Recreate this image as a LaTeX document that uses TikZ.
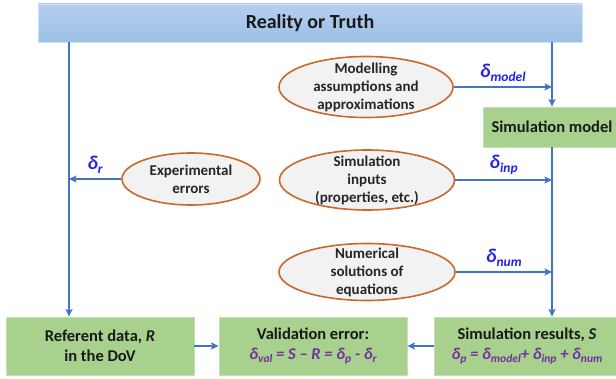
\documentclass[tikz,border=0pt]{standalone}
\usepackage{fontspec}
\setmainfont{Carlito}
\usepackage{tikz}
\usetikzlibrary{arrows.meta,shapes.geometric}

\definecolor{lineblue}{HTML}{4472C4}
\definecolor{deltablue}{HTML}{2323E6}
\definecolor{formpurple}{HTML}{7030A0}
\definecolor{boxgreen}{HTML}{A9D18E}
\definecolor{boxedge}{HTML}{C5E0B4}
\definecolor{bartop}{HTML}{B4CFEE}
\definecolor{barbottom}{HTML}{9CBFE6}
\definecolor{ellorange}{HTML}{C9692C}
\definecolor{ellfill}{HTML}{F2F2F2}

\newcommand{\dlabel}[1]{{\fontsize{19.5}{19}\selectfont\itshape δ}\raisebox{-4.5pt}{\fontsize{13.5}{13}\selectfont\itshape #1}}
\newcommand{\dterm}[1]{δ\raisebox{-3.5pt}{\fontsize{11.5}{11}\selectfont #1}}

\begin{document}
\begin{tikzpicture}[x=1pt,y=-1pt,line width=1.7pt,
  greenbox/.style={rectangle,fill=boxgreen,draw=boxedge,line width=0.8pt,align=center,inner sep=0pt,
    text=black!90,font=\bfseries\fontsize{16.5}{20}\selectfont},
  errell/.style={ellipse,fill=ellfill,draw=ellorange,line width=1.6pt,inner sep=0pt},
  elltext/.style={align=center,text=black!85,font=\bfseries\fontsize{15}{18}\selectfont},
  flow/.style={draw=lineblue,line width=1.7pt,-{Stealth[length=7.5pt,width=7pt,inset=1.5pt]}},
  dlab/.style={midway,above=1pt,text=deltablue,font=\bfseries}]
\useasboundingbox (0,0) rectangle (616,379);

\node[rectangle,top color=bartop,bottom color=barbottom,draw=bartop!60!white,line width=0.8pt,
  minimum width=544,minimum height=38,font=\bfseries\fontsize{20}{20}\selectfont,text=black!90] (truth) at (310,23) {Reality or Truth};

\node[greenbox,minimum width=138,minimum height=40] (simmodel) at (552,127) {Simulation model};
\node[greenbox,minimum width=188,minimum height=58] (referent) at (100,346) {Referent data, \textit{R}\\in the DoV};
\node[greenbox,minimum width=188,minimum height=58] (validation) at (313,346) {Validation error:\\{\color{formpurple}\itshape \dterm{val} = S – R = \dterm{p} - \dterm{r}}};
\node[greenbox,minimum width=186,minimum height=58] (simres) at (527,346) {Simulation results, \textit{S}\\{\color{formpurple}\itshape \dterm{p} = \dterm{model}+ \dterm{inp} + \dterm{num}}};

\node[errell,minimum width=174,minimum height=61,label={[elltext]center:Modelling\\assumptions and\\approximations}] (modelling) at (366,87) {};
\node[errell,minimum width=138,minimum height=52,label={[elltext]center:Experimental\\errors}] (experr) at (191,179) {};
\node[errell,minimum width=175,minimum height=60,label={[elltext]center:Simulation\\inputs\\(properties, etc.)}] (inputs) at (367,180) {};
\node[errell,minimum width=176,minimum height=57,label={[elltext]center:Numerical\\solutions of\\equations}] (numerical) at (367,272) {};

\coordinate (ltop) at (69,42);

\draw[flow] (ltop) -- (ltop |- referent.north);
\draw[flow] (truth.south -| simmodel.north) -- (simmodel.north);
\draw[flow] (simmodel.south) -- (simmodel.south |- simres.north);

\draw[flow] (modelling.east) -- (modelling.east -| simmodel.north) node[dlab]{\dlabel{model}};
\draw[flow] (inputs.east) -- (inputs.east -| simmodel.north) node[dlab]{\dlabel{inp}};
\draw[flow] (numerical.east) -- (numerical.east -| simmodel.north) node[dlab]{\dlabel{num}};
\draw[flow] (experr.west) -- (experr.west -| ltop) node[dlab]{\dlabel{r}};

\draw[flow] (referent) -- (validation);
\draw[flow] (simres) -- (validation);
\end{tikzpicture}
\end{document}
